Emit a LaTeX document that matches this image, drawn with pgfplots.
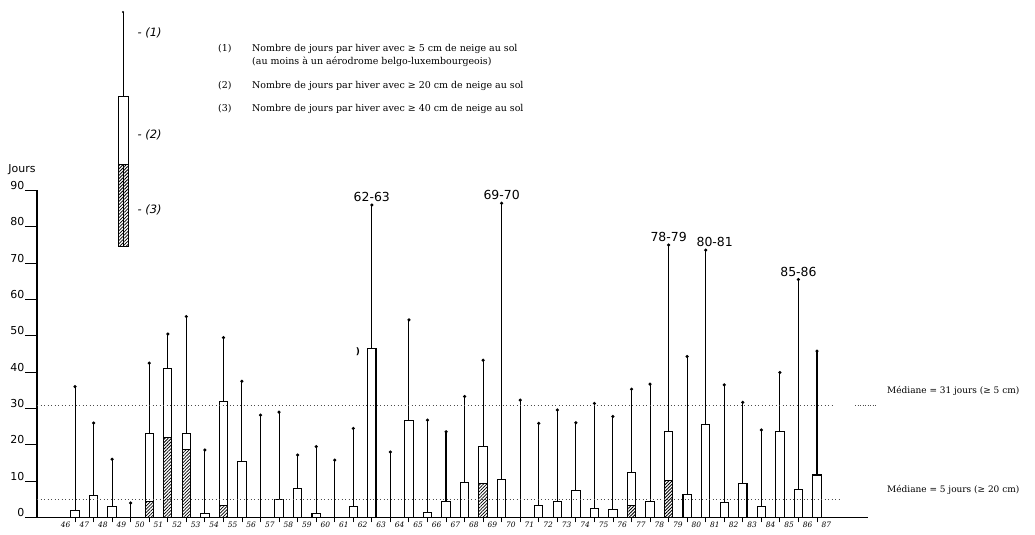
\documentclass[border=0pt]{standalone}
\usepackage{fontspec}
\setmainfont{DejaVu Serif}
\newfontfamily\dv{DejaVu Sans}
\usepackage{pgfplots}
\usepackage{pgfplotstable}
\pgfplotsset{compat=1.18}
\usetikzlibrary{patterns.meta}
\pgfplotstableread{
x w
46 36
47 26
48 16
49 4
50 42.5
51 50.5
52 55.3
53 18.6
54 49.5
55 37.5
56 28.2
57 29
58 17.2
59 19.5
60 15.8
61 24.5
62 86
63 18
64 54.4
65 26.8
66 23.6
67 33.3
68 43.3
69 86.5
70 32.3
71 25.9
72 29.6
73 26.1
74 31.4
75 27.8
76 35.3
77 36.7
78 75
79 44.3
80 73.6
81 36.5
82 31.7
83 24.1
84 39.9
85 65.5
86 45.8
}\whisk
\pgfplotstableread{
x b
46 2
47 6
48 3
50 23
51 41
52 23.2
53 1.1
54 32
55 15.4
57 5
58 8
59 1.1
61 3
62 46.6
64 26.7
65 1.3
66 4.4
67 9.6
68 19.5
69 10.5
71 3.4
72 4.4
73 7.4
74 2.5
75 2.2
76 12.3
77 4.4
78 23.6
79 6.2
80 25.7
81 4.2
82 9.4
83 3.1
84 23.6
85 7.6
86 11.7
}\boxes
\pgfplotstableread{
x h
50 4.5
51 22
52 18.6
54 3.2
68 9.4
76 3.4
78 10.3
}\hatch
\tikzset{hatchfill/.style={pattern={Lines[angle=45,distance=2.3bp,line width=0.8bp]}}}
\begin{document}
\begin{tikzpicture}[x=1bp,y=1bp]
\useasboundingbox (0,0) rectangle (1035,535);
\begin{axis}[
  at={(37bp,17.5bp)}, anchor=south west,
  scale only axis, width=831bp, height=327bp,
  xmin=43.95, xmax=88.75, ymin=0, ymax=90,
  axis x line=bottom, axis y line=left,
  axis line style={-, line width=1.1bp, black},
  clip=false,
  tick align=outside,
  major tick length=12bp, minor tick length=5bp,
  tick style={line width=0.9bp, black},
  major x tick style={draw=none},
  ytick={0,10,...,90},
  /pgf/number format/assume math mode=true,
  yticklabel style={font=\dv\fontsize{11}{11}\selectfont, anchor=south east, inner sep=0.5pt},
  xtick={45.5,46.5,...,86.5},
  xticklabels={46,47,48,49,50,51,52,53,54,55,56,57,58,59,60,61,62,63,64,65,66,67,68,69,70,71,72,73,74,75,76,77,78,79,80,81,82,83,84,85,86,87},
  minor xtick={46,47,...,86},
  xticklabel style={font=\itshape\fontsize{7.5}{7.5}\selectfont, inner sep=1pt, yshift=9bp},
]
\addplot[ycomb, black, line width=1.05bp, mark=*, mark size=1bp, mark options={fill=black}] table[x=x,y=w]{\whisk};
\addplot[ybar, bar width=0.45, bar shift=0pt, fill=white, draw=black, line width=1.05bp] table[x=x,y=b]{\boxes};
\addplot[ybar, bar width=0.45, bar shift=0pt, draw=black, hatchfill, line width=1.05bp] table[x=x,y=h]{\hatch};
\addplot[black!70, line width=0.6bp, dash pattern=on 1bp off 2.5bp] coordinates {(43.95,31) (86.9,31)};
\addplot[black!70, line width=0.6bp, dash pattern=on 1bp off 1.5bp] coordinates {(88.05,31) (89.2,31)};
\addplot[black!70, line width=0.6bp, dash pattern=on 1bp off 2.5bp] coordinates {(43.95,5) (87.2,5)};
\node[font=\dv\fontsize{12.5}{12.5}\selectfont, above, inner sep=1bp, yshift=2bp] at (axis cs:62,86) {62-63};
\node[font=\dv\fontsize{12.5}{12.5}\selectfont, above, inner sep=1bp, yshift=2bp] at (axis cs:69,86.5) {69-70};
\node[font=\dv\fontsize{12.5}{12.5}\selectfont, above, inner sep=1bp, yshift=2bp] at (axis cs:78,75) {78-79};
\node[font=\dv\fontsize{12.5}{12.5}\selectfont, above, inner sep=1bp, yshift=2bp, xshift=9bp] at (axis cs:80,73.6) {80-81};
\node[font=\dv\fontsize{12.5}{12.5}\selectfont, above, inner sep=1bp, yshift=2bp] at (axis cs:85,65.5) {85-86};
\end{axis}
% axis title
\node[font=\dv\fontsize{11}{11}\selectfont] at (22,365) {Jours};
\node[font=\dv\bfseries\fontsize{9}{9}\selectfont] at (358,183) {)};
% legend key
\draw[line width=1bp] (123,288) -- (123,523);
\fill (123,523) circle (1.2bp);
\draw[line width=1bp, fill=white] (118,370) rectangle (128,438);
\draw[line width=1bp, hatchfill] (118,288) rectangle (128,370);
\node[anchor=west, font=\dv\itshape\fontsize{11.5}{11.5}\selectfont] at (134,502) {- (1)};
\node[anchor=west, font=\dv\itshape\fontsize{11.5}{11.5}\selectfont] at (134,400) {- (2)};
\node[anchor=west, font=\dv\itshape\fontsize{11.5}{11.5}\selectfont] at (134,325) {- (3)};
% legend text
\begin{scope}[every node/.style={anchor=base west, inner sep=0pt, font=\fontsize{9.5}{9.5}\selectfont}]
\node at (218,483) {(1)};
\node at (252,483) {Nombre de jours par hiver avec ≥ 5 cm de neige au sol};
\node at (252,470) {(au moins à un aérodrome belgo-luxembourgeois)};
\node at (218,446) {(2)};
\node at (252,446) {Nombre de jours par hiver avec ≥ 20 cm de neige au sol};
\node at (218,423) {(3)};
\node at (252,423) {Nombre de jours par hiver avec ≥ 40 cm de neige au sol};
\node[font=\fontsize{9}{9}\selectfont] at (887,141) {Médiane = 31 jours (≥ 5 cm)};
\node[font=\fontsize{9}{9}\selectfont] at (887,42) {Médiane = 5 jours (≥ 20 cm)};
\end{scope}
\end{tikzpicture}
\end{document}
